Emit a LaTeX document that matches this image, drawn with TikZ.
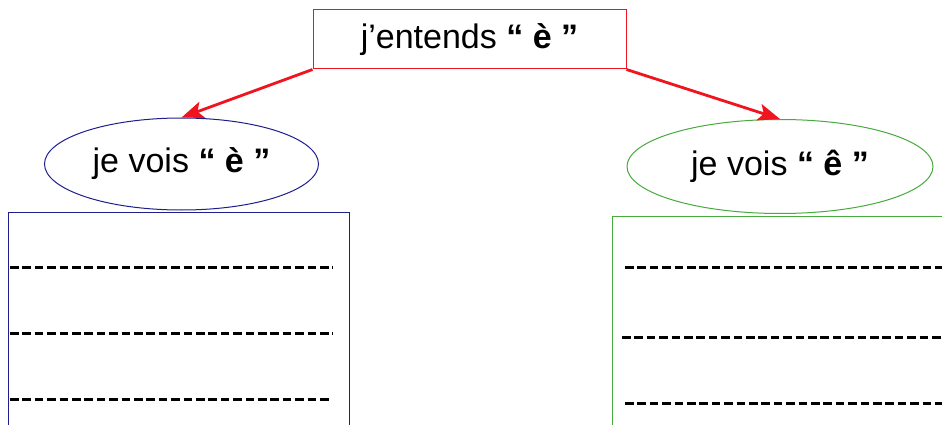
\documentclass[tikz,border=0pt]{standalone}
\usepackage{fontspec}
\setmainfont{Liberation Sans}
\usetikzlibrary{shapes.geometric,arrows.meta}
\definecolor{myred}{RGB}{240,20,30}
\definecolor{myblue}{RGB}{30,30,140}
\definecolor{mygreen}{RGB}{70,170,60}
\tikzset{
  lbl/.style={font=\fontsize{34}{40}\selectfont},
  topbox/.style={draw=myred, line width=1pt, minimum width=313pt, minimum height=59pt, lbl, inner sep=0pt},
  oval/.style={ellipse, line width=1pt, lbl, inner sep=0pt},
  sheet/.style={line width=1pt, anchor=north west, inner sep=0pt},
  link/.style={draw=myred, line width=2.8pt, -{Stealth[length=22pt,width=17pt,inset=5pt]}},
  rule/.style={draw=black, line width=3pt, dash pattern=on 8.5pt off 3.9pt}
}
\begin{document}
\begin{tikzpicture}[x=1pt,y=-1pt]
\useasboundingbox (0,0) rectangle (942,425);
\clip (0,0) rectangle (942,425);
\node[topbox] (top) at (469.5,39.5) {j’entends \textbf{“ è ”}};
\node[oval, draw=myblue, minimum width=274pt, minimum height=92pt] (le) at (181.5,164) {je vois \textbf{“ è ”}};
\node[oval, draw=mygreen, minimum width=306pt, minimum height=94pt] (re) at (780,166.5) {je vois \textbf{“ ê ”}};
\node[sheet, draw=myblue, minimum width=341pt, minimum height=260pt] (lb) at (8,212) {};
\node[sheet, draw=mygreen, minimum width=340pt, minimum height=260pt] (rb) at (612,216) {};
\draw[link] (top.south west) -- (le.north);
\draw[link] (top.south east) -- (re.north);
\draw[rule] (10,267) -- (333,267);
\draw[rule] (10,333) -- (333,333);
\draw[rule] (10,399) -- (330,399);
\draw[rule] (625,267) -- (942,267);
\draw[rule] (622,337) -- (942,337);
\draw[rule] (625,403) -- (942,403);
\end{tikzpicture}
\end{document}
